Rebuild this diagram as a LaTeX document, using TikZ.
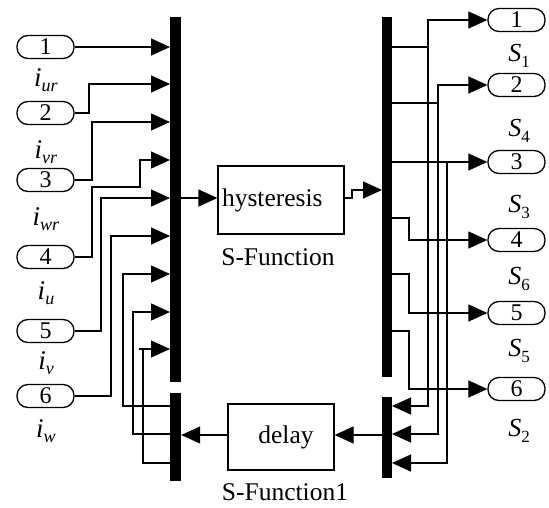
\documentclass[tikz,border=0pt]{standalone}
\usepackage{fontspec}
\setmainfont{Liberation Serif}
\usetikzlibrary{arrows.meta}
\newcommand\ilbl[1]{\fontsize{27}{27}\selectfont\textit{i}\raisebox{-0.4ex}{\fontsize{18}{18}\selectfont\textit{#1}}}
\newcommand\slbl[1]{\fontsize{26}{26}\selectfont\textit{S}\raisebox{-0.45ex}{\fontsize{17}{17}\selectfont #1}}
\begin{document}
\begin{tikzpicture}[x=1pt,y=-1pt,
  wire/.style={line width=1.2pt},
  arr/.style={wire,-{Triangle[length=19pt,width=17pt]}},
  port/.style={draw,line width=1.3pt,rounded corners=11pt,minimum width=57pt,minimum height=23pt,inner sep=0pt,font=\fontsize{24}{24}\selectfont},
  bar/.style={fill=black,draw=none,inner sep=0pt,minimum width=11pt},
  blk/.style={draw,line width=1.2pt,inner sep=0pt,font=\fontsize{25.5}{25.5}\selectfont},
  capt/.style={font=\fontsize{25.5}{25.5}\selectfont,inner sep=0pt}
]
\useasboundingbox (0,0) rectangle (549,507);
% bars
\node[bar,minimum height=365pt] (muxL) at (175.5,199.5) {};
\node[bar,minimum height=88pt] (demL) at (175.5,437) {};
\node[bar,minimum width=10pt,minimum height=360pt] (demR) at (387,197) {};
\node[bar,minimum width=10pt,minimum height=81pt] (muxR) at (387,437.5) {};
% blocks
\node[blk,minimum width=126pt,minimum height=68pt,text width=118pt,align=left,inner xsep=4pt] (hyst) at (281,200) {hysteresis};
\node[capt] (hcap) at (278,257) {S-Function};
\node[blk,minimum width=106pt,minimum height=66pt] (delay) at (281,437) {\hspace*{10pt}delay};
\node[capt] (dcap) at (285,492) {S-Function1};
% left ports
\node[port] (p1) at (45.5,47) {1};
\node[port] (p2) at (45.5,113) {2};
\node[port] (p3) at (45.5,180) {3};
\node[port] (p4) at (45.5,257) {4};
\node[port] (p5) at (45.5,331) {5};
\node[port] (p6) at (45.5,396) {6};
\node (l1) at (46,80) {\ilbl{ur}};
\node (l2) at (46,152) {\ilbl{vr}};
\node (l3) at (46,219) {\ilbl{wr}};
\node (l4) at (46,293) {\ilbl{u}};
\node (l5) at (46,363) {\ilbl{v}};
\node (l6) at (46,431) {\ilbl{w}};
% right ports
\node[port] (q1) at (516.5,20) {1};
\node[port] (q2) at (516.5,85) {2};
\node[port] (q3) at (516.5,162) {3};
\node[port] (q4) at (516.5,240) {4};
\node[port] (q5) at (516.5,313) {5};
\node[port] (q6) at (516.5,389) {6};
\node (s1) at (519,56) {\slbl{1}};
\node (s4) at (519,131) {\slbl{4}};
\node (s3) at (519,207) {\slbl{3}};
\node (s6) at (519,279) {\slbl{6}};
\node (s5) at (519,351) {\slbl{5}};
\node (s2) at (519,431) {\slbl{2}};
% mux input points
\coordinate (mi1) at (170,47);
\coordinate (mi2) at (170,84);
\coordinate (mi3) at (170,122);
\coordinate (mi4) at (170,160);
\coordinate (mi5) at (170,198);
\coordinate (mi6) at (170,236);
\coordinate (mi7) at (170,274);
\coordinate (mi8) at (170,312);
\coordinate (mi9) at (170,349);
% left wiring
\draw[arr] (p1.east) -- (mi1);
\draw[arr] (p2.east) -- (89,113) -- (89,84) -- (mi2);
\draw[arr] (p3.east) -- (92,180) -- (92,122) -- (mi3);
\draw[arr] (p4.east) -- (92,257) -- (92,187) -- (140,187) -- (140,160) -- (mi4);
\draw[arr] (p5.east) -- (101,331) -- (101,198) -- (mi5);
\draw[arr] (p6.east) -- (111,396) -- (111,236) -- (mi6);
% demux feedback
\coordinate (do1) at (170,406);
\coordinate (do2) at (170,434);
\coordinate (do3) at (170,463);
\draw[arr] (do1) -- (123,406) -- (123,274) -- (mi7);
\draw[arr] (do2) -- (133,434) -- (133,312) -- (mi8);
\draw[wire] (do3) -- (143,463) -- (143,349);
\draw[arr] (139,349) -- (mi9);
% mux to hysteresis
\draw[arr] (181,198) -- (hyst.west |- 0,198);
\coordinate (dri) at (382,190);
\draw[arr] (344,198) -- (352,198) -- (352,190) -- (dri);
% demux outputs
\draw[arr] (392,47) -- (428,47) -- (428,20) -- (q1.west);
\draw[arr] (428,47) -- (428,406) -- (392,406);
\draw[arr] (392,103) -- (438,103) -- (438,85) -- (q2.west);
\draw[arr] (438,103) -- (438,434) -- (392,434);
\draw[arr] (392,162) -- (q3.west);
\draw[arr] (447,162) -- (447,463) -- (392,463);
\draw[arr] (392,218) -- (409,218) -- (409,240) -- (q4.west);
\draw[arr] (392,274) -- (409,274) -- (409,313) -- (q5.west);
\draw[arr] (392,331) -- (409,331) -- (409,389) -- (q6.west);
% delay path
\draw[arr] (muxR.west |- 0,435) -- (delay.east |- 0,435);
\draw[arr] (delay.west |- 0,435) -- (demL.east |- 0,435);
\end{tikzpicture}
\end{document}
